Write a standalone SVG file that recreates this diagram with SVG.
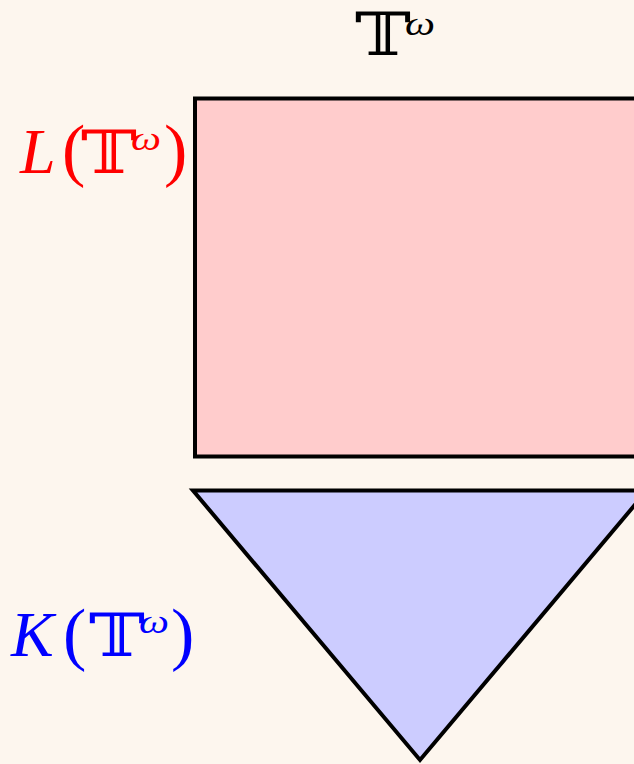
<svg xmlns="http://www.w3.org/2000/svg" width="634" height="764" viewBox="0 0 634 764">
<style>
.m{font-family:"Liberation Serif","DejaVu Serif","DejaVu Sans",serif;}
.it{font-style:italic;}
.big{font-size:64px;}
.par{font-size:70px;}
.ds{font-family:"DejaVu Serif","DejaVu Sans",serif;font-size:60px;}
.w{font-family:"Liberation Serif","DejaVu Serif",serif;font-style:italic;font-size:34px;}
.shape{stroke:#000;stroke-width:4;}
</style>
<rect width="634" height="764" fill="#fdf6ee"/>
<g id="title">
<text class="ds" transform="translate(355,55) scale(1.25,1)" fill="#000">𝕋<tspan class="w" x="40" y="-20">ω</tspan></text>
</g>
<g id="L">
<rect class="shape" x="195" y="98.5" width="460" height="358" fill="#ffcccc"/>
</g>
<g id="K">
<polygon class="shape" points="193,490.5 647,490.5 420,760" fill="#ccccff"/>
</g>
<g id="labelL" fill="#ff0000">
<text class="m it big" x="20" y="173">L</text>
<text class="m par" x="62" y="173">(</text>
<text class="ds" transform="translate(81,173) scale(1.25,1)">𝕋<tspan class="w" x="40" y="-23">ω</tspan></text>
<text class="m par" x="164" y="173">)</text>
</g>
<g id="labelK" fill="#0000ff">
<text class="m it big" x="11" y="656">K</text>
<text class="m par" x="63" y="657">(</text>
<text class="ds" transform="translate(89,656) scale(1.25,1)">𝕋<tspan class="w" x="40" y="-23">ω</tspan></text>
<text class="m par" x="171" y="657">)</text>
</g>
</svg>
